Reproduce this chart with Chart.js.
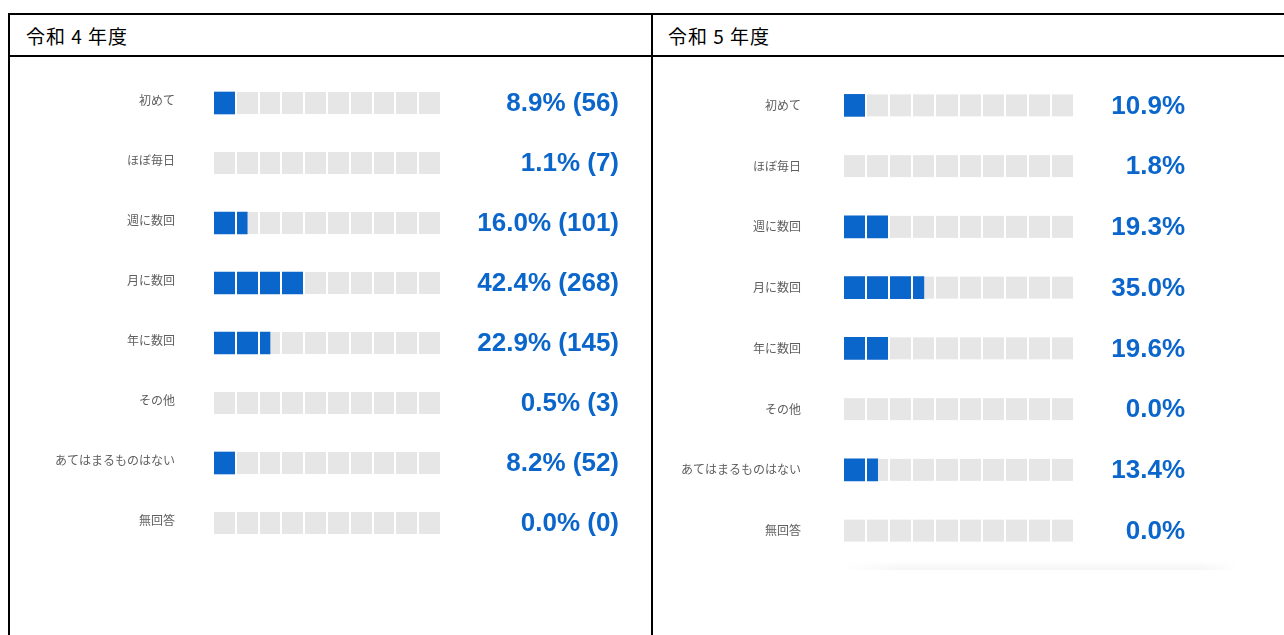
<!DOCTYPE html>
<html>
<head>
<meta charset="utf-8">
<script src="https://cdn.jsdelivr.net/npm/chart.js@4/dist/chart.umd.min.js"></script>
<style>
  html, body { margin: 0; padding: 0; background: #fff; }
  body { width: 1284px; height: 635px; position: relative; overflow: hidden; }
  .line { position: absolute; background: #000; }
  .head { position: absolute; font-family: "Noto Sans CJK JP", sans-serif; font-size: 19px; letter-spacing: 1px; line-height: 20px; color: #000; }
  .box { position: absolute; }
  #shade { position: absolute; left: 843px; top: 561px; width: 395px; height: 9px;
    background: linear-gradient(to right, rgba(255,255,255,1), rgba(255,255,255,0) 15%, rgba(255,255,255,0) 90%, rgba(255,255,255,1)),
                linear-gradient(to bottom, rgba(0,0,0,0), rgba(0,0,0,0.045)); }
</style>
</head>
<body>
<div class="line" style="left:8px;top:13px;width:1276px;height:2px"></div>
<div class="line" style="left:8px;top:55px;width:1276px;height:2px"></div>
<div class="line" style="left:8px;top:13px;width:2px;height:622px"></div>
<div class="line" style="left:651px;top:13px;width:2px;height:622px"></div>
<div class="head" style="left:26px;top:26px">令和 4 年度</div>
<div class="head" style="left:668px;top:26px">令和 5 年度</div>

<div class="box" style="left:10px;top:57px"><canvas id="r4" width="641" height="578"></canvas></div>
<div class="box" style="left:653px;top:57px"><canvas id="r5" width="631" height="578"></canvas></div>
<div id="shade"></div>

<script>
// 選択肢
const answers = ["初めて", "ほぼ毎日", "週に数回", "月に数回", "年に数回", "その他", "あてはまるものはない", "無回答"];

// 令和4年度 (%) と 件数
const r4Percent = [8.9, 1.1, 16.0, 42.4, 22.9, 0.5, 8.2, 0.0];
const r4Count = [56, 7, 101, 268, 145, 3, 52, 0];
// 令和4年度 バーの長さ (図から読み取り、半マス単位)
const r4Bars = [10, 0, 15, 40, 25, 0, 10, 0];

// 令和5年度 (%)
const r5Percent = [10.9, 1.8, 19.3, 35.0, 19.6, 0.0, 13.4, 0.0];
// 令和5年度 バーの長さ
const r5Bars = [10, 0, 20, 35, 20, 0, 15, 0];

// 右側の表示テキスト
const r4Text = r4Percent.map((p, i) => `${p.toFixed(1)}% (${r4Count[i]})`);
const r5Text = r5Percent.map(p => `${p.toFixed(1)}%`);

const blue = '#0b66cc';

// 灰色のトラック (0〜100%) をバーの下に描く
const trackPlugin = {
  id: 'track',
  beforeDatasetsDraw(chart) {
    const ctx = chart.ctx;
    const x = chart.scales.x;
    const meta = chart.getDatasetMeta(0);
    const x0 = x.getPixelForValue(x.min);
    const x1 = x.getPixelForValue(x.max);
    ctx.save();
    ctx.fillStyle = '#e6e6e6';
    meta.data.forEach(bar => {
      ctx.fillRect(x0, bar.y - bar.height / 2, x1 - x0, bar.height);
    });
    ctx.restore();
  }
};

// 縦軸の余白をなくす
function noPad(scale) {
  scale.paddingTop = 0;
  scale.paddingBottom = 0;
}

function makeChart(id, values, texts, g) {
  return new Chart(document.getElementById(id), {
    type: 'bar',
    data: {
      labels: answers,
      datasets: [{
        data: values,
        backgroundColor: blue,
        borderWidth: 0,
        barThickness: 22
      }]
    },
    options: {
      indexAxis: 'y',
      responsive: false,
      animation: false,
      layout: { padding: { top: g.top, bottom: g.bottom, left: 0, right: g.right } },
      plugins: { legend: { display: false }, tooltip: { enabled: false } },
      scales: {
        x: {
          min: 0, max: 100,
          ticks: { display: false, stepSize: 10 },
          grid: { color: '#ffffff', lineWidth: 2, z: 1, drawTicks: false },
          border: { display: false },
          afterFit(scale) { scale.height = 0; scale.paddingLeft = 0; scale.paddingRight = 0; }
        },
        y: {
          grid: { display: false, drawTicks: false },
          border: { display: false },
          ticks: {
            padding: g.labelPad,
            labelOffset: g.labelOff,
            color: '#606060',
            font: { family: '"Noto Sans CJK JP", sans-serif', size: 12 }
          },
          afterFit(scale) { scale.width = g.left; noPad(scale); }
        },
        y2: {
          type: 'category',
          labels: texts,
          position: 'right',
          offset: true,
          grid: { display: false, drawTicks: false },
          border: { display: false },
          ticks: {
            crossAlign: 'far',
            labelOffset: 1,
            color: blue,
            font: { family: '"Liberation Sans", Arial, sans-serif', size: 26, weight: 'bold' }
          },
          afterFit(scale) { scale.width = g.valueW; noPad(scale); }
        }
      }
    },
    plugins: [trackPlugin]
  });
}

makeChart('r4', r4Bars, r4Text, { left: 203, right: 32, valueW: 178, top: 16, bottom: 82, labelPad: 38, labelOff: -3 });
makeChart('r5', r5Bars, r5Text, { left: 190, right: 99, valueW: 111, top: 18, bottom: 74, labelPad: 42, labelOff: 0 });
</script>
</body>
</html>
